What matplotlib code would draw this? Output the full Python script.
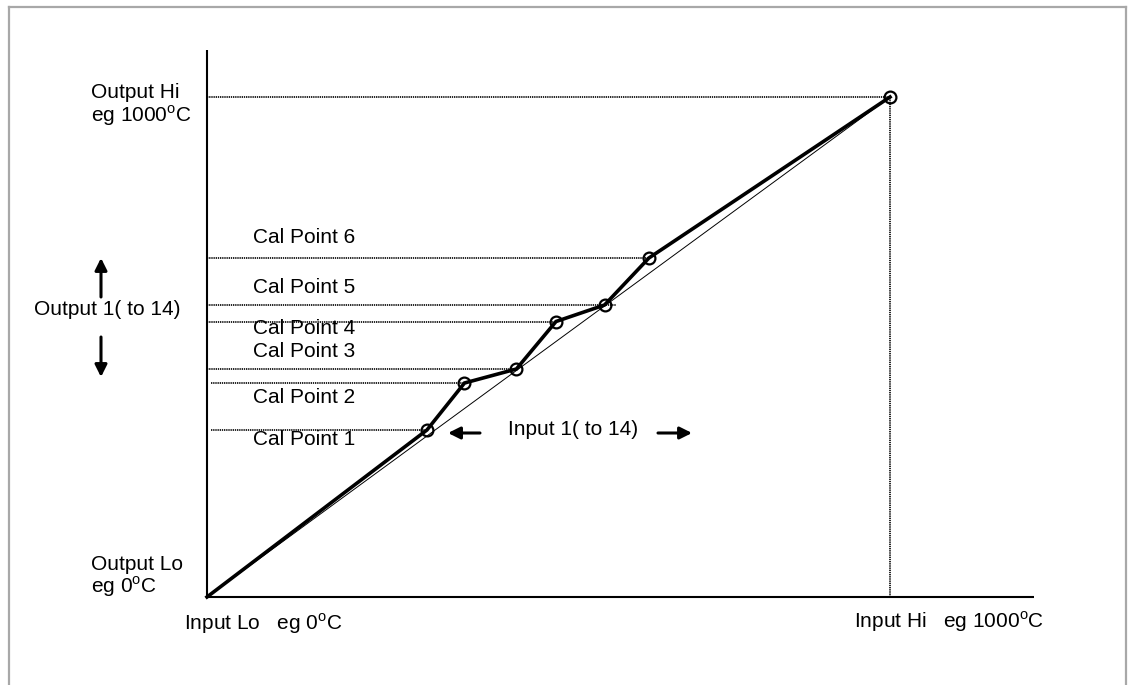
import matplotlib
matplotlib.use("Agg")
import matplotlib.pyplot as plt
from matplotlib.lines import Line2D

plt.rcParams['font.family'] = ['Liberation Sans', 'DejaVu Sans']
plt.rcParams['mathtext.fontset'] = 'custom'
plt.rcParams['mathtext.rm'] = 'Liberation Sans'

# ---- data (input / output values, 0..1000 scale) ----
input_range = [0, 1000]
output_range = [0, 1000]
cal_input = [322, 377, 453, 511, 582, 647]
cal_output = [334, 428, 456, 551, 584, 678]
cal_labels = ['Cal Point 1', 'Cal Point 2', 'Cal Point 3',
              'Cal Point 4', 'Cal Point 5', 'Cal Point 6']
# where each dotted calibration line starts / ends (input units)
cal_line_start = [6, 6, 0, 0, 0, 0]
cal_line_end = [322, 377, 453, 511, 599, 647]
cal_label_y = [304, 388, 480, 526, 608, 708]

FS = 15
fig = plt.figure(figsize=(11.32, 6.85), dpi=100)
ax = fig.add_axes([0, 0, 1, 1])
ax.set_xlim(-303.07, 1354.3)
ax.set_ylim(-176, 1194)
ax.axis('off')

# gray frame
fc = '#a8a8a8'
for xs, ys in [([9/1132, 9/1132], [0, 1 - 7/685]),
               ([9/1132, 1126/1132], [1 - 7/685, 1 - 7/685]),
               ([1126/1132, 1126/1132], [1 - 7/685, 0])]:
    fig.add_artist(Line2D(xs, ys, transform=fig.transFigure, color=fc, lw=1.6))

# axes lines
ax.plot([0, 0], [0, 1094], color='black', lw=1.5, solid_capstyle='butt')
ax.plot([0, 1211], [0, 0], color='black', lw=1.5, solid_capstyle='butt')

dot = dict(color='black', lw=1.2, linestyle=(0, (0.8, 0.5)))
# Output Hi / Input Hi dotted guides
ax.plot([0, input_range[1]], [output_range[1]] * 2, **dot)
ax.plot([input_range[1]] * 2, [0, output_range[1]], **dot)

# calibration dotted lines
for s, e, y in zip(cal_line_start, cal_line_end, cal_output):
    ax.plot([s, e], [y, y], **dot)

# ideal straight line
ax.plot(input_range, output_range, color='black', lw=0.7)

# calibrated polyline
xs = [input_range[0]] + cal_input + [input_range[1]]
ys = [output_range[0]] + cal_output + [output_range[1]]
ax.plot(xs, ys, color='black', lw=2.6, solid_joinstyle='miter')
ax.plot(cal_input + [input_range[1]], cal_output + [output_range[1]],
        linestyle='none', marker='o', ms=8.5, mfc='none', mec='black', mew=1.6)

# labels
for lab, y in zip(cal_labels, cal_label_y):
    ax.text(67.3, y, lab, fontsize=FS, ha='left', va='baseline')

sup = r'$^{\rm o}$'
ax.text(-169.8, 998, 'Output Hi', fontsize=FS, ha='left', va='baseline')
ax.text(-169.8, 950, 'eg 1000' + sup + 'C', fontsize=FS, ha='left', va='baseline')
ax.text(-169.8, 54, 'Output Lo', fontsize=FS, ha='left', va='baseline')
ax.text(-169.8, 8, 'eg 0' + sup + 'C', fontsize=FS, ha='left', va='baseline')
ax.text(-33.7, -66, 'Input Lo   eg 0' + sup + 'C', fontsize=FS, ha='left', va='baseline')
ax.text(947.3, -62, 'Input Hi   eg 1000' + sup + 'C', fontsize=FS, ha='left', va='baseline')
ax.text(-253.3, 564, 'Output 1( to 14)', fontsize=FS, ha='left', va='baseline')
ax.text(440.7, 324, 'Input 1( to 14)', fontsize=FS, ha='left', va='baseline')

arr = dict(arrowstyle='-|>', lw=2.2, color='black', mutation_scale=18,
           shrinkA=0, shrinkB=0)
ax.annotate('', xy=(-155.2, 678), xytext=(-155.2, 600), arrowprops=arr)
ax.annotate('', xy=(-155.2, 440), xytext=(-155.2, 520), arrowprops=arr)
ax.annotate('', xy=(352.9, 328), xytext=(399.7, 328), arrowprops=arr)
ax.annotate('', xy=(710.1, 328), xytext=(660.3, 328), arrowprops=arr)

fig.savefig('out.png', dpi=100, facecolor='white')
